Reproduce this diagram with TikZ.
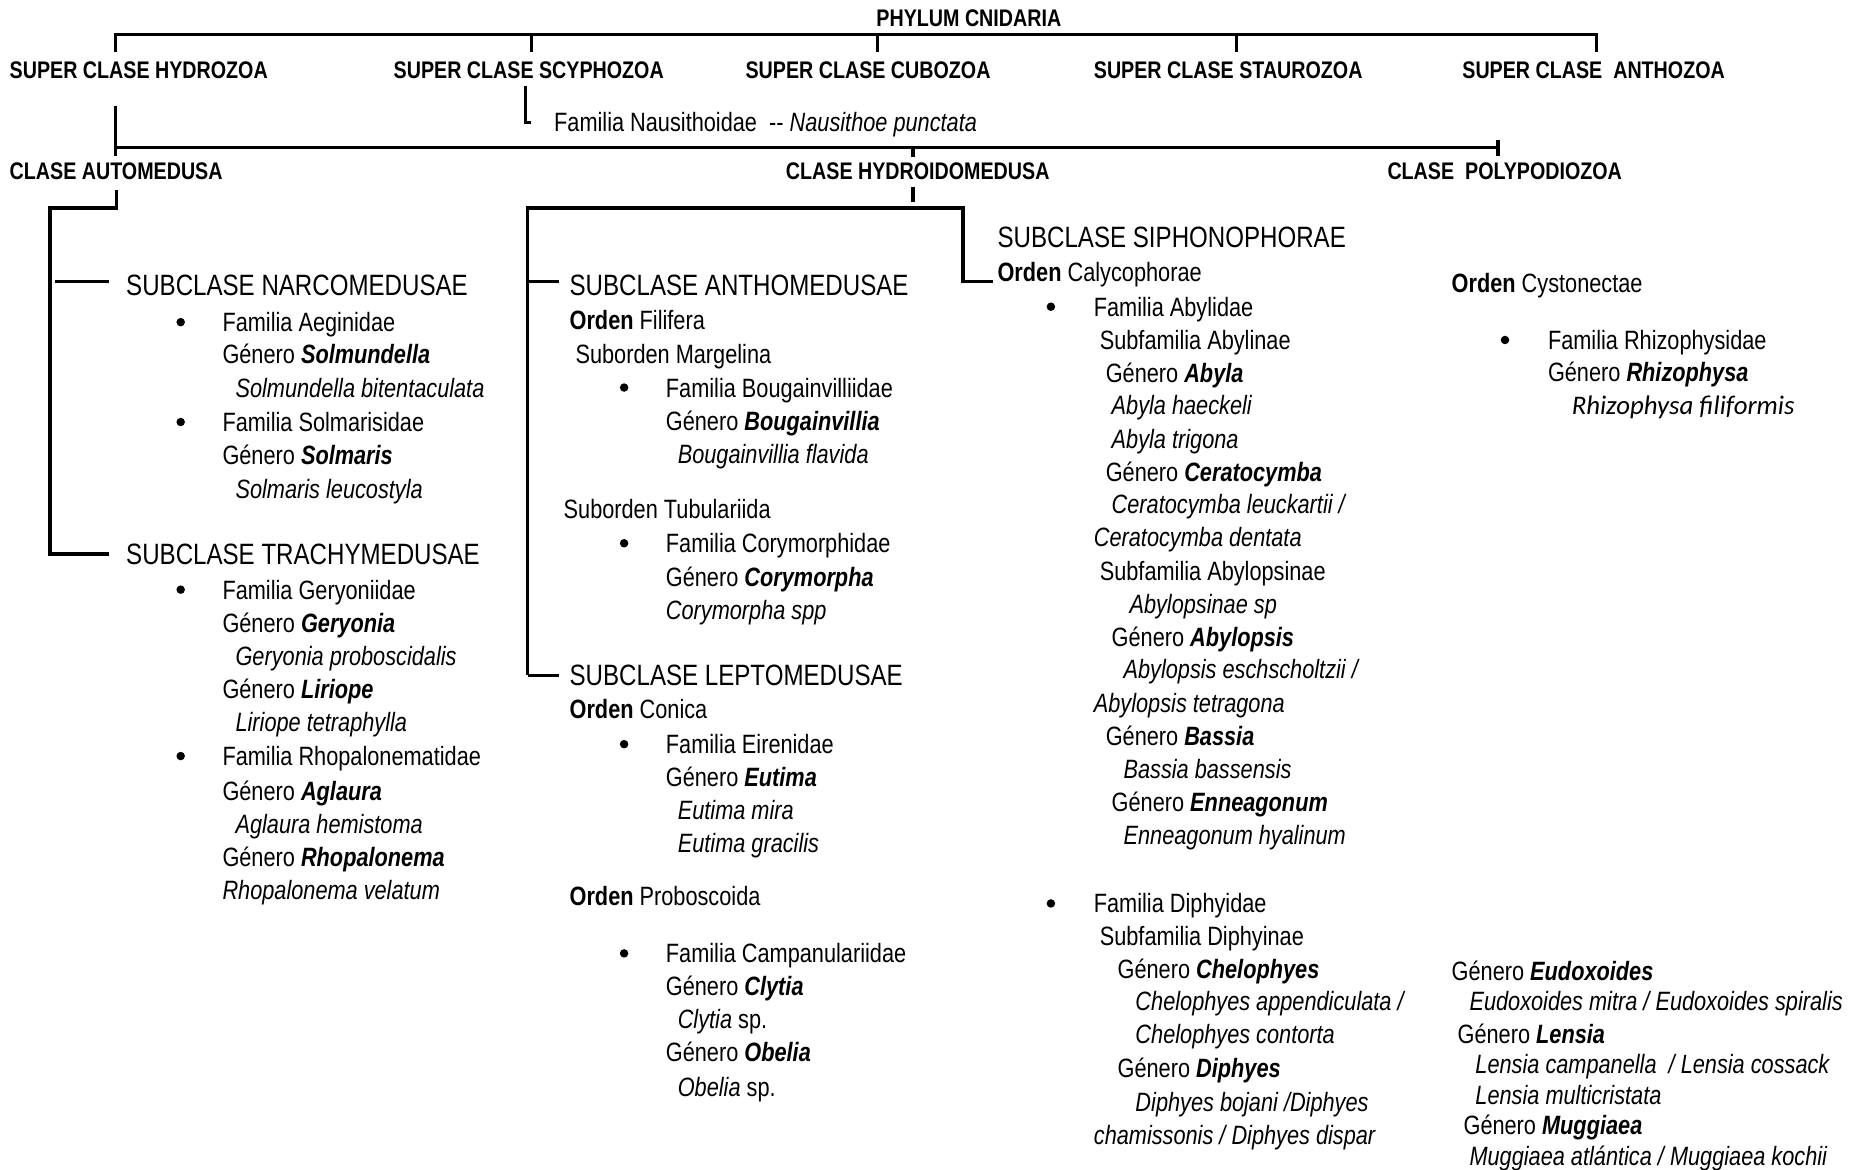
\documentclass[tikz,border=0pt]{standalone}
\usepackage{fontspec}
\setmainfont{Liberation Sans}[FakeStretch=0.82]
\newfontfamily\calib{Carlito}
\newcommand{\bi}[1]{\textbf{\textit{#1}}}
\begin{document}
\begin{tikzpicture}[x=1.18878pt,y=-1.18878pt,
  hdr/.style={font=\bfseries\fontsize{24}{28}\selectfont, anchor=base west, yshift=-8.6pt, inner sep=0pt},
  subc/.style={font=\fontsize{29.4}{34}\selectfont, anchor=base west, yshift=-10.5pt, inner sep=0pt},
  txt/.style={font=\fontsize{26.5}{32}\selectfont, anchor=base west, yshift=-9.5pt, inner sep=0pt},
  bul/.style={circle, fill=black, inner sep=0pt, minimum size=8.5pt},
  conn/.style={line width=3.3pt, line cap=butt, line join=miter}]
\fill[white] (0,0) rectangle (1568,984);
\useasboundingbox (0,0) rectangle (1568,984);

% ---------- headers ----------
\node[hdr, anchor=base] (phylum) at (815,15) {PHYLUM CNIDARIA};
\node[hdr] (hydro) at (8,59) {SUPER CLASE HYDROZOA};
\node[hdr] (scypho) at (331,59) {SUPER CLASE SCYPHOZOA};
\node[hdr] (cubo) at (627,59) {SUPER CLASE CUBOZOA};
\node[hdr] (stauro) at (920,59) {SUPER CLASE STAUROZOA};
\node[hdr] (antho) at (1230,59) {SUPER CLASE\ \ ANTHOZOA};
\node[txt] (nausi) at (466,103) {Familia Nausithoidae\ \ -{}- \textit{Nausithoe punctata}};
\node[hdr] (auto) at (8,144) {CLASE AUTOMEDUSA};
\node[hdr] (hydroid) at (661,144) {CLASE HYDROIDOMEDUSA};
\node[hdr] (polypo) at (1167,144) {CLASE\ \ POLYPODIOZOA};

% ---------- tree lines ----------
\coordinate (tL) at (97,29); \coordinate (tR) at (1343,29);
\draw[conn] (97,44) -- (tL) -- (tR) -- (1343,44);
\draw[conn] (447,29) -- (447,44);
\draw[conn] (738,29) -- (738,44);
\draw[conn] (1040,29) -- (1040,44);
\draw[conn] (442,72) -- (442,103) -- (447,103);
\coordinate (hL) at (97,124); \coordinate (hR) at (1260,124);
\draw[conn] (97,89) -- (97,131);
\draw[conn] (hL) -- (hR);
\draw[conn] (1260,118) -- (1260,131);
\draw[conn] (768,124) -- (768,132);
% automedusa
\draw[conn] (98,160) -- (98,175) -- (42,175) -- (42,466) -- (92,466);
\draw[conn] (46,237) -- (92,237);
% hydroidomedusa
\draw[conn] (768,157) -- (768,170);
\draw[conn] (444,568) -- (444,175) -- (810,175) -- (810,237) -- (835,237);
\draw[conn] (444,237) -- (470,237);
\draw[conn] (444,568) -- (470,568);

% ---------- left column ----------
\node[subc] (narco) at (106,240) {SUBCLASE NARCOMEDUSAE};
\node[bul] at (152,271) {};
\node[txt] (a1) at (187,271) {Familia Aeginidae};
\node[txt] (a2) at (187,298) {Género \bi{Solmundella}};
\node[txt] (a3) at (198,326) {\textit{Solmundella bitentaculata}};
\node[bul] at (152,355) {};
\node[txt] (a4) at (187,355) {Familia Solmarisidae};
\node[txt] (a5) at (187,383) {Género \bi{Solmaris}};
\node[txt] (a6) at (198,411) {\textit{Solmaris leucostyla}};
\node[subc] (trachy) at (106,466) {SUBCLASE TRACHYMEDUSAE};
\node[bul] at (152,496) {};
\node[txt] (a7) at (187,496) {Familia Geryoniidae};
\node[txt] (a8) at (187,524) {Género \bi{Geryonia}};
\node[txt] (a9) at (198,552) {\textit{Geryonia proboscidalis}};
\node[txt] (a10) at (187,580) {Género \bi{Liriope}};
\node[txt] (a11) at (198,607) {\textit{Liriope tetraphylla}};
\node[bul] at (152,636) {};
\node[txt] (a12) at (187,636) {Familia Rhopalonematidae};
\node[txt] (a13) at (187,665) {Género \bi{Aglaura}};
\node[txt] (a14) at (198,693) {\textit{Aglaura hemistoma}};
\node[txt] (a15) at (187,721) {Género \bi{Rhopalonema}};
\node[txt] (a16) at (187,749) {\textit{Rhopalonema velatum}};

% ---------- middle column ----------
\node[subc] (anthome) at (479,240) {SUBCLASE ANTHOMEDUSAE};
\node[txt] (b1) at (479,269) {\textbf{Orden} Filifera};
\node[txt] (b2) at (484,298) {Suborden Margelina};
\node[bul] at (525,326) {};
\node[txt] (b3) at (560,326) {Familia Bougainvilliidae};
\node[txt] (b4) at (560,354) {Género \bi{Bougainvillia}};
\node[txt] (b5) at (570,382) {\textit{Bougainvillia flavida}};
\node[txt] (b6) at (474,428) {Suborden Tubulariida};
\node[bul] at (525,457) {};
\node[txt] (b7) at (560,457) {Familia Corymorphidae};
\node[txt] (b8) at (560,485) {Género \bi{Corymorpha}};
\node[txt] (b9) at (560,513) {\textit{Corymorpha spp}};
\node[subc] (lepto) at (479,568) {SUBCLASE LEPTOMEDUSAE};
\node[txt] (b10) at (479,596) {\textbf{Orden} Conica};
\node[bul] at (525,626) {};
\node[txt] (b11) at (560,626) {Familia Eirenidae};
\node[txt] (b12) at (560,654) {Género \bi{Eutima}};
\node[txt] (b13) at (570,681) {\textit{Eutima mira}};
\node[txt] (b14) at (570,709) {\textit{Eutima gracilis}};
\node[txt] (b15) at (479,754) {\textbf{Orden} Proboscoida};
\node[bul] at (525,802) {};
\node[txt] (b16) at (560,802) {Familia Campanulariidae};
\node[txt] (b17) at (560,829) {Género \bi{Clytia}};
\node[txt] (b18) at (570,857) {\textit{Clytia} sp.};
\node[txt] (b19) at (560,885) {Género \bi{Obelia}};
\node[txt] (b20) at (570,914) {\textit{Obelia} sp.};

% ---------- siphonophorae column ----------
\node[subc] (sipho) at (839,199) {SUBCLASE SIPHONOPHORAE};
\node[txt] (c1) at (839,229) {\textbf{Orden} Calycophorae};
\node[bul] at (884,258) {};
\node[txt] (c2) at (920,258) {Familia Abylidae};
\node[txt] (c3) at (925,286) {Subfamilia Abylinae};
\node[txt] (c4) at (930,314) {Género \bi{Abyla}};
\node[txt] (c5) at (935,341) {\textit{Abyla haeckeli}};
\node[txt] (c6) at (935,369) {\textit{Abyla trigona}};
\node[txt] (c7) at (930,397) {Género \bi{Ceratocymba}};
\node[txt] (c8) at (935,424) {\textit{Ceratocymba leuckartii /}};
\node[txt] (c9) at (920,452) {\textit{Ceratocymba dentata}};
\node[txt] (c10) at (925,480) {Subfamilia Abylopsinae};
\node[txt] (c11) at (950,508) {\textit{Abylopsinae sp}};
\node[txt] (c12) at (935,536) {Género \bi{Abylopsis}};
\node[txt] (c13) at (945,563) {\textit{Abylopsis eschscholtzii /}};
\node[txt] (c14) at (920,591) {\textit{Abylopsis tetragona}};
\node[txt] (c15) at (930,619) {Género \bi{Bassia}};
\node[txt] (c16) at (945,647) {\textit{Bassia bassensis}};
\node[txt] (c17) at (935,675) {Género \bi{Enneagonum}};
\node[txt] (c18) at (945,702) {\textit{Enneagonum hyalinum}};
\node[bul] at (884,760) {};
\node[txt] (c19) at (920,760) {Familia Diphyidae};
\node[txt] (c20) at (925,787) {Subfamilia Diphyinae};
\node[txt] (c21) at (940,815) {Género \bi{Chelophyes}};
\node[txt] (c22) at (955,842) {\textit{Chelophyes appendiculata /}};
\node[txt] (c23) at (955,870) {\textit{Chelophyes contorta}};
\node[txt] (c24) at (940,898) {Género \bi{Diphyes}};
\node[txt] (c25) at (955,927) {\textit{Diphyes bojani /Diphyes}};
\node[txt] (c26) at (920,955) {\textit{chamissonis / Diphyes dispar}};

% ---------- right column ----------
\node[txt] (d1) at (1221,238) {\textbf{Orden} Cystonectae};
\node[bul] at (1266,286) {};
\node[txt] (d2) at (1302,286) {Familia Rhizophysidae};
\node[txt] (d3) at (1302,313) {Género \bi{Rhizophysa}};
\node[txt, font=\calib\itshape\fontsize{26.8}{31}\selectfont] (d4) at (1322,341) {Rhizophysa filiformis};
\node[txt] (d5) at (1221,817) {Género \bi{Eudoxoides}};
\node[txt] (d6) at (1236,842) {\textit{Eudoxoides mitra / Eudoxoides spiralis}};
\node[txt] (d7) at (1226,870) {Género \bi{Lensia}};
\node[txt] (d8) at (1241,895) {\textit{Lensia campanella\ \ / Lensia cossack}};
\node[txt] (d9) at (1241,921) {\textit{Lensia multicristata}};
\node[txt] (d10) at (1231,946) {Género \bi{Muggiaea}};
\node[txt] (d11) at (1236,972) {\textit{Muggiaea atlántica / Muggiaea kochii}};
\end{tikzpicture}
\end{document}
